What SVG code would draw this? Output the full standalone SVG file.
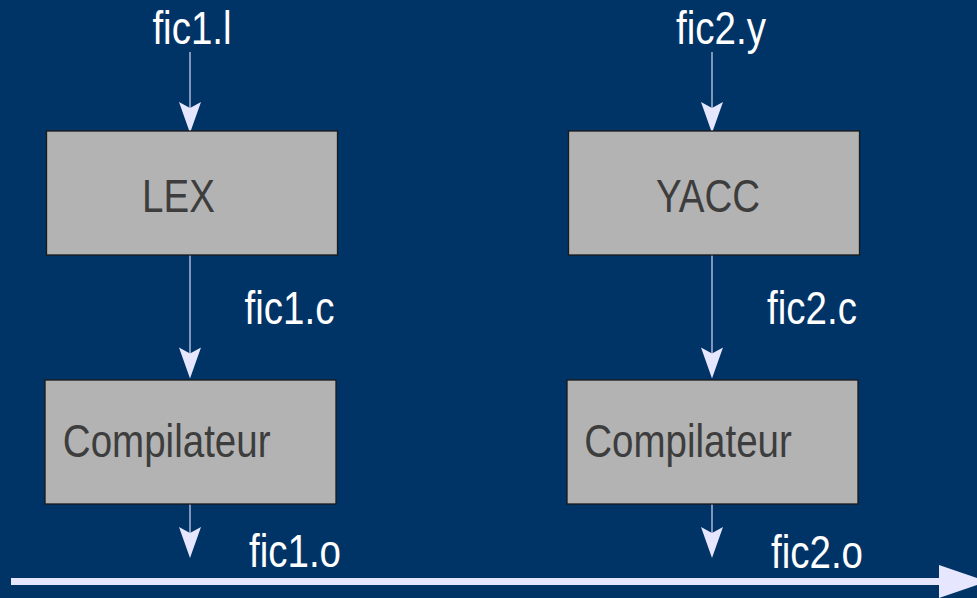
<svg xmlns="http://www.w3.org/2000/svg" width="977" height="598" viewBox="0 0 977 598">
<defs>
<style>
.box{fill:#b3b3b3;stroke:#1a1a1a;stroke-width:1.3}
.bt{font-family:"Liberation Sans",Arial,sans-serif;font-size:47px;fill:#3d3d3d;text-anchor:middle}
.lt{font-family:"Liberation Sans",Arial,sans-serif;font-size:47px;fill:#ffffff;text-anchor:middle}
.ln{stroke:#d8d8f5;stroke-width:1.2;fill:none}
.hd{fill:#e6e6ff}
</style>
<path id="head" class="hd" d="M0,0 L-11,-31 L0,-25 L11,-31 Z"/>
</defs>
<rect x="0" y="0" width="977" height="598" fill="#003366"/>
<g id="connectors">
<line class="ln" x1="190" y1="52" x2="190" y2="110"/>
<use href="#head" x="190" y="133"/>
<line class="ln" x1="190" y1="255" x2="190" y2="356"/>
<use href="#head" x="190" y="378.5"/>
<line class="ln" x1="190" y1="504" x2="190" y2="536"/>
<use href="#head" x="190" y="558"/>
<line class="ln" x1="712" y1="52" x2="712" y2="110"/>
<use href="#head" x="712" y="133"/>
<line class="ln" x1="712" y1="255" x2="712" y2="356"/>
<use href="#head" x="712" y="378.5"/>
<line class="ln" x1="712" y1="504" x2="712" y2="536"/>
<use href="#head" x="712" y="558"/>
<rect x="11" y="578" width="930" height="7" fill="#e6e6ff"/>
<polygon points="939,565 987,581.5 939,598" fill="#e6e6ff"/>
</g>
<g id="lex">
<rect class="box" x="46.5" y="131" width="291" height="124"/>
<text class="bt" transform="translate(178.5,211.5) scale(0.82,1)">LEX</text>
</g>
<g id="yacc">
<rect class="box" x="568.5" y="131" width="291" height="124"/>
<text class="bt" transform="translate(708,211.5) scale(0.82,1)">YACC</text>
</g>
<g id="comp1">
<rect class="box" x="45" y="380" width="291" height="124"/>
<text class="bt" transform="translate(166.7,457) scale(0.82,1)">Compilateur</text>
</g>
<g id="comp2">
<rect class="box" x="567" y="380" width="291" height="124"/>
<text class="bt" transform="translate(688,457) scale(0.82,1)">Compilateur</text>
</g>
<g id="labels">
<text class="lt" transform="translate(192,44) scale(0.82,1)">fic1.l</text>
<text class="lt" transform="translate(721,44) scale(0.82,1)">fic2.y</text>
<text class="lt" transform="translate(289.5,324) scale(0.82,1)">fic1.c</text>
<text class="lt" transform="translate(812,324) scale(0.82,1)">fic2.c</text>
<text class="lt" transform="translate(295,567) scale(0.82,1)">fic1.o</text>
<text class="lt" transform="translate(817,568) scale(0.82,1)">fic2.o</text>
</g>
</svg>
